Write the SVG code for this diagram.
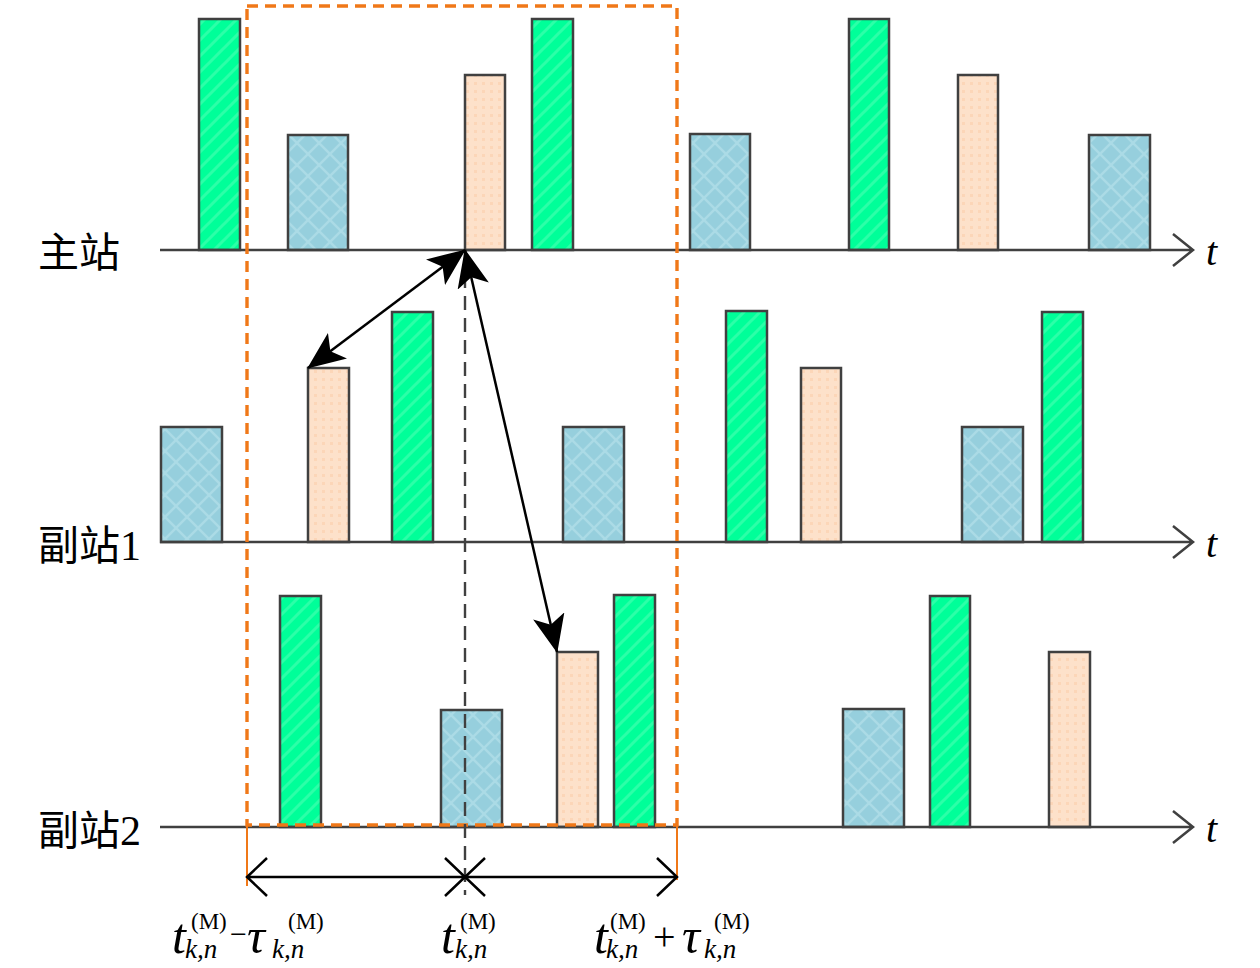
<svg xmlns="http://www.w3.org/2000/svg" width="1260" height="968" viewBox="0 0 1260 968">
<defs>
<pattern id="pg" width="16" height="16" patternUnits="userSpaceOnUse">
<rect width="16" height="16" fill="#00ff99"/>
<path d="M-4,20 L20,-4 M-4,4 L4,-4 M12,20 L20,12" stroke="#2cffa8" stroke-width="3"/>
</pattern>
<pattern id="pb" width="22" height="22" patternUnits="userSpaceOnUse">
<rect width="22" height="22" fill="#96cfdd"/>
<path d="M0,0 L22,22 M22,0 L0,22" stroke="#abdbe6" stroke-width="2.5"/>
</pattern>
<pattern id="pp" width="8" height="8" patternUnits="userSpaceOnUse">
<rect width="8" height="8" fill="#fde1ca"/>
<rect x="2" y="2" width="3" height="3" fill="#fcd6b8"/>
</pattern>
<marker id="ah" viewBox="0 0 38 32" refX="37" refY="16" markerWidth="38" markerHeight="32" markerUnits="userSpaceOnUse" orient="auto-start-reverse">
<path d="M0,0 L38,16 L0,32 L9,16 z" fill="#000"/>
</marker>
</defs>
<style>
.g{fill:url(#pg);stroke:#404040;stroke-width:2.5}
.b{fill:url(#pb);stroke:#404040;stroke-width:2.5}
.p{fill:url(#pp);stroke:#404040;stroke-width:2.5}
.ax{stroke:#404040;stroke-width:2.5;fill:none}
.cn{font-family:"Noto Sans CJK SC","Noto Sans CJK JP",sans-serif;font-size:41px;fill:#000}
.num{font-family:"Liberation Serif",serif;font-size:42px;fill:#000}
.it{font-family:"Liberation Serif",serif;font-style:italic;fill:#000}
.rm{font-family:"Liberation Serif",serif;fill:#000}
</style>

<g id="row-main">
<rect class="g" x="199" y="19" width="41" height="231"/>
<rect class="b" x="288" y="135" width="60" height="115"/>
<rect class="p" x="465" y="75" width="40" height="175"/>
<rect class="g" x="532" y="19" width="41" height="231"/>
<rect class="b" x="690" y="134" width="60" height="116"/>
<rect class="g" x="849" y="19" width="40" height="231"/>
<rect class="p" x="958" y="75" width="40" height="175"/>
<rect class="b" x="1089" y="135" width="61" height="115"/>
<path class="ax" d="M160,250 H1192 M1173,234 L1193,250 L1173,266"/>
<text class="cn" x="38" y="267">主站</text>
<text class="it" x="1206" y="265" font-size="40">t</text>
</g>

<g id="row-sub1">
<rect class="b" x="161" y="427" width="61" height="115"/>
<rect class="p" x="308" y="368" width="41" height="174"/>
<rect class="g" x="392" y="312" width="41" height="230"/>
<rect class="b" x="563" y="427" width="61" height="115"/>
<rect class="g" x="726" y="311" width="41" height="231"/>
<rect class="p" x="801" y="368" width="40" height="174"/>
<rect class="b" x="962" y="427" width="61" height="115"/>
<rect class="g" x="1042" y="312" width="41" height="230"/>
<path class="ax" d="M160,542 H1192 M1173,526 L1193,542 L1173,558"/>
<text x="38" y="560"><tspan class="cn">副站</tspan><tspan class="num">1</tspan></text>
<text class="it" x="1206" y="557" font-size="40">t</text>
</g>

<g id="row-sub2">
<rect class="g" x="280" y="596" width="41" height="231"/>
<rect class="b" x="441" y="710" width="61" height="117"/>
<rect class="p" x="557" y="652" width="41" height="175"/>
<rect class="g" x="614" y="595" width="41" height="232"/>
<rect class="b" x="843" y="709" width="61" height="118"/>
<rect class="g" x="930" y="596" width="40" height="231"/>
<rect class="p" x="1049" y="652" width="41" height="175"/>
<path class="ax" d="M160,827 H1192 M1173,811 L1193,827 L1173,843"/>
<text x="38" y="845"><tspan class="cn">副站</tspan><tspan class="num">2</tspan></text>
<text class="it" x="1206" y="842" font-size="40">t</text>
</g>

<g id="window">
<rect x="247" y="6" width="430" height="819" fill="none" stroke="#f07818" stroke-width="3.4" stroke-dasharray="11 7"/>
<path d="M247,825 V886 M677,825 V880" stroke="#f07818" stroke-width="2"/>
</g>

<g id="connectors">
<path d="M465,252 V895" stroke="#404040" stroke-width="2.4" stroke-dasharray="14 8" fill="none"/>
<path d="M465,250 L308,368" stroke="#000" stroke-width="2.5" fill="none" marker-start="url(#ah)" marker-end="url(#ah)"/>
<path d="M465,250 L557,652" stroke="#000" stroke-width="2.5" fill="none" marker-start="url(#ah)" marker-end="url(#ah)"/>
<path d="M247,877 H677 M267,858 L247,877 L267,896 M445,858 L465,877 L445,896 M485,858 L465,877 L485,896 M657,858 L677,877 L657,896" stroke="#000" stroke-width="2.5" fill="none"/>
</g>

<g id="labels">
<text class="it" x="172" y="953" font-size="50">t</text>
<text class="rm" x="191" y="929" font-size="23">(M)</text>
<text class="it" x="185" y="958" font-size="27">k,n</text>
<text class="rm" x="230" y="944" font-size="30">−</text>
<text class="it" x="247" y="953" font-size="50">τ</text>
<text class="rm" x="288" y="929" font-size="23">(M)</text>
<text class="it" x="272" y="958" font-size="27">k,n</text>

<text class="it" x="441" y="953" font-size="50">t</text>
<text class="rm" x="460" y="929" font-size="23">(M)</text>
<text class="it" x="455" y="958" font-size="27">k,n</text>

<text class="it" x="594" y="953" font-size="50">t</text>
<text class="rm" x="610" y="929" font-size="23">(M)</text>
<text class="it" x="606" y="958" font-size="27">k,n</text>
<text class="rm" x="653" y="950" font-size="40">+</text>
<text class="it" x="682" y="953" font-size="50">τ</text>
<text class="rm" x="714" y="929" font-size="23">(M)</text>
<text class="it" x="704" y="958" font-size="27">k,n</text>
</g>
</svg>
